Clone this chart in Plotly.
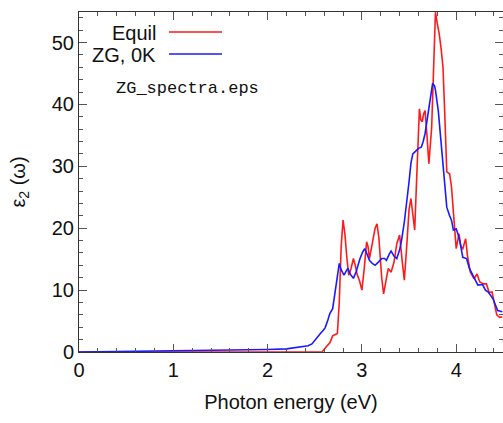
import plotly.graph_objects as go

# ---- data ----
equil_x = [0.0, 0.5, 1.0, 1.5, 2.0, 2.4, 2.58, 2.62, 2.66, 2.69, 2.71, 2.74, 2.76, 2.78, 2.80, 2.82,
           2.84, 2.86, 2.885, 2.91, 2.93, 2.95, 2.975, 3.00, 3.025, 3.05, 3.065, 3.08, 3.11, 3.14,
           3.16, 3.18, 3.21, 3.23, 3.255, 3.28, 3.31, 3.34, 3.37, 3.40, 3.425, 3.45, 3.475, 3.50,
           3.52, 3.545, 3.56, 3.58, 3.60, 3.61, 3.625, 3.64, 3.655, 3.67, 3.69, 3.71, 3.74, 3.76,
           3.78, 3.80, 3.82, 3.84, 3.86, 3.88, 3.90, 3.93, 3.95, 3.98, 4.00, 4.03, 4.05, 4.07,
           4.10, 4.12, 4.15, 4.19, 4.22, 4.25, 4.29, 4.32, 4.35, 4.38, 4.41, 4.43, 4.46, 4.49]
equil_y = [0.0, 0.02, 0.05, 0.05, 0.05, 0.05, 0.05, 0.8, 1.5, 2.6, 2.8, 3.0, 8.0, 17.0, 21.3, 19.0,
           15.3, 12.4, 13.5, 15.1, 14.0, 12.5, 11.5, 10.0, 13.5, 17.8, 17.0, 15.1, 17.5, 20.0,
           20.7, 18.5, 12.0, 9.4, 11.5, 13.5, 12.9, 14.5, 17.5, 18.9, 15.0, 11.6, 17.0, 23.0,
           24.8, 21.5, 19.7, 27.7, 36.5, 39.3, 37.5, 37.2, 38.5, 39.0, 35.0, 30.4, 36.3, 47.0,
           54.9, 53.0, 51.4, 49.0, 46.0, 38.0, 29.1, 28.8, 26.7, 20.7, 16.7, 19.1, 17.0, 16.7,
           18.3, 15.5, 12.9, 11.8, 12.6, 11.3, 11.0, 11.0, 9.6, 9.7, 7.5, 6.0, 5.6, 5.7]

zg_x = [0.0, 0.5, 1.0, 1.5, 1.8, 2.0, 2.2, 2.3, 2.37, 2.43, 2.47, 2.50, 2.53, 2.56, 2.59, 2.61,
        2.64, 2.66, 2.69, 2.71, 2.73, 2.75, 2.76, 2.78, 2.81, 2.83, 2.85, 2.88, 2.91, 2.94, 2.98,
        3.01, 3.03, 3.05, 3.08, 3.11, 3.14, 3.18, 3.21, 3.24, 3.26, 3.29, 3.31, 3.34, 3.37, 3.40,
        3.42, 3.45, 3.47, 3.50, 3.52, 3.54, 3.56, 3.60, 3.63, 3.65, 3.67, 3.70, 3.72, 3.75, 3.77,
        3.78, 3.81, 3.84, 3.87, 3.88, 3.90, 3.93, 3.95, 3.97, 4.00, 4.02, 4.04, 4.07, 4.11, 4.14,
        4.19, 4.23, 4.28, 4.31, 4.34, 4.39, 4.44, 4.49]
zg_y = [0.0, 0.1, 0.15, 0.2, 0.3, 0.4, 0.5, 0.7, 0.8, 1.0, 1.3, 1.9, 2.6, 3.0, 3.5, 3.9,
        5.2, 6.2, 7.0, 9.0, 11.0, 13.5, 14.3, 13.3, 12.4, 13.0, 13.5, 12.5, 11.9, 13.0, 15.1,
        16.2, 16.7, 16.0, 14.8, 14.3, 14.0, 14.6, 15.1, 15.1, 14.8, 15.8, 16.3, 15.5, 15.1, 16.5,
        18.0, 21.0, 23.4, 27.5, 30.5, 32.0, 32.3, 32.9, 33.1, 34.0, 35.3, 38.5, 41.0, 43.4, 43.0,
        42.3, 39.0, 33.7, 28.8, 26.1, 23.4, 22.0, 21.3, 19.7, 19.9, 19.0, 17.8, 15.3, 15.1, 13.5,
        12.1, 10.8, 10.9, 10.0, 9.7, 8.6, 6.7, 6.5]

series_names = ["Equil", "ZG, 0K"]
series_colors = ["#ff1a1a", "#1a1aff"]
x_ticks = [0, 1, 2, 3, 4]
y_ticks = [0, 10, 20, 30, 40, 50]
x_title = "Photon energy (eV)"
y_title = "ε<sub>2</sub> (ω)"
file_label = "ZG_spectra.eps"

# ---- geometry ----
W, H = 503, 423
L, R, T, B = 79, 503, 12, 352
def px(x):
    return (x - L) / (R - L)
def py(y):
    return (B - y) / (B - T)

fig = go.Figure()
for xs, ys, name, col in [(equil_x, equil_y, series_names[0], series_colors[0]),
                          (zg_x, zg_y, series_names[1], series_colors[1])]:
    fig.add_trace(go.Scatter(x=xs, y=ys, mode="lines", name=name,
                             line=dict(color=col, width=1.6), showlegend=False))

font_main = "Liberation Sans, Arial, sans-serif"
FS = 20
axis_common = dict(showline=True, linecolor="#333", linewidth=1, mirror="ticks",
                   ticks="inside", ticklen=8, tickwidth=1, tickcolor="#555",
                   showgrid=False, zeroline=False,
                   tickfont=dict(family=font_main, size=FS, color="#111"))

fig.update_xaxes(range=[0, (R - L) / 94.3], tickvals=x_ticks,
                 minor=dict(dtick=0.2, ticks="inside", ticklen=4, tickcolor="#555", showgrid=False),
                 title=dict(text=x_title, font=dict(family=font_main, size=FS, color="#111"), standoff=14),
                 **axis_common)
fig.update_yaxes(range=[0, (B - T) / 6.19], tickvals=y_ticks,
                 minor=dict(dtick=2, ticks="inside", ticklen=4, tickcolor="#555", showgrid=False),
                 title=dict(text=y_title, font=dict(family=font_main, size=FS, color="#111"), standoff=20),
                 **axis_common)

# legend drawn manually (text right-aligned, sample to the right)
legend_rows = [(33, series_names[0], series_colors[0]), (55, series_names[1], series_colors[1])]
for yy, name, col in legend_rows:
    fig.add_annotation(x=px(158), y=py(yy), xref="paper", yref="paper", text=name,
                       showarrow=False, xanchor="right", yanchor="middle",
                       font=dict(family=font_main, size=FS, color="#111"))
    fig.add_shape(type="line", xref="paper", yref="paper", x0=px(169), x1=px(222),
                  y0=py(yy - 1), y1=py(yy - 1), line=dict(color=col, width=1.6))

fig.add_annotation(x=px(114), y=py(89), xref="paper", yref="paper", text=file_label,
                   showarrow=False, xanchor="left", yanchor="middle",
                   font=dict(family="Liberation Mono, Courier New, monospace", size=17, color="#111"))

fig.update_layout(width=W, height=H, margin=dict(l=L, r=W - R, t=T, b=H - B),
                  paper_bgcolor="white", plot_bgcolor="white")

fig.write_html("out.html", config={"displayModeBar": False},
               post_script="document.body.style.margin='0';document.body.style.overflow='hidden';")
